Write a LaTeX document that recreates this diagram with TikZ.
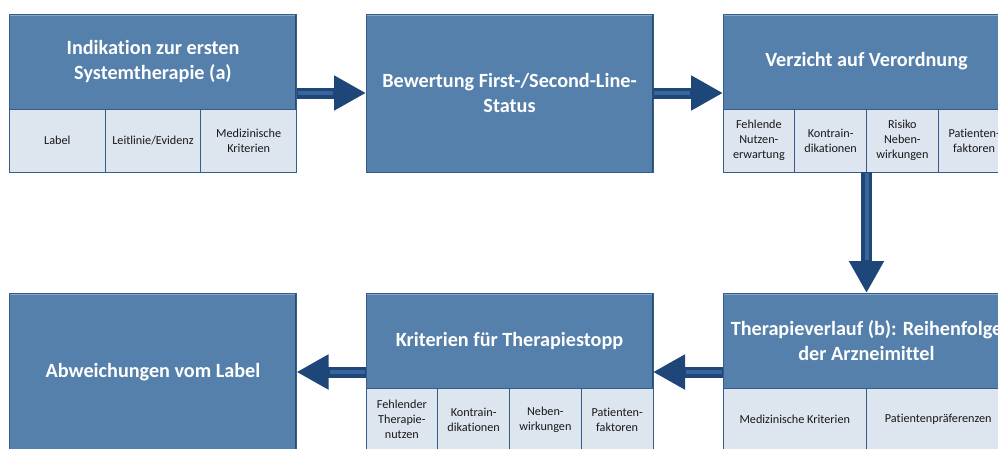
\documentclass[tikz,border=0pt]{standalone}
\usepackage{fontspec}
\setmainfont{Carlito}[Ligatures={NoCommon}]
\usetikzlibrary{arrows.meta}

\definecolor{hdrfill}{RGB}{84,128,171}
\definecolor{hdrlight}{RGB}{132,168,204}
\definecolor{hdrdark}{RGB}{42,76,116}
\definecolor{cellfill}{RGB}{221,229,238}
\definecolor{celledge}{RGB}{52,92,140}
\definecolor{arrowdark}{RGB}{30,70,120}
\definecolor{arrowlight}{RGB}{56,102,156}

\tikzset{
  frame/.style={minimum width=287pt, minimum height=158pt, inner sep=0pt, outer sep=0pt},
  header/.style={fill=hdrfill, draw=celledge, line width=0.8pt,
    minimum width=287pt, minimum height=95pt, inner sep=0pt, outer sep=0pt,
    anchor=north west, text=white, align=center,
    font=\fontsize{20.2}{25.5}\selectfont\bfseries,
    path picture={
      \draw[hdrlight, line width=3pt] (path picture bounding box.north west) -- (path picture bounding box.north east);
      \draw[hdrdark, line width=3pt] (path picture bounding box.north east) -- (path picture bounding box.south east);
    }},
  cellbox/.style={fill=cellfill, draw=celledge, line width=0.8pt,
    minimum height=63pt, inner sep=0pt, outer sep=0pt, anchor=north west,
    align=center, text=black!90, font=\fontsize{12.2}{15}\selectfont},
  flow/.style={draw=arrowdark, line width=11pt, -{Triangle[length=32pt,width=33pt]}},
  flowshine/.style={draw=arrowlight, line width=4pt, shorten >=33pt, shorten <=1pt},
}

\begin{document}
\begin{tikzpicture}[x=1pt,y=-1pt]
\useasboundingbox (0,0) rectangle (998,448);
\clip (0,0) rectangle (998,448);

% outer frames of the six stages
\node[frame] (b1) at (153,93) {};
\node[frame] (b2) at (509.5,93) {};
\node[frame] (b3) at (866.5,93) {};
\node[frame] (b4) at (866.5,372) {};
\node[frame] (b5) at (509.5,372) {};
\node[frame] (b6) at (153,372) {};

% stage 1
\node[header] (h1) at (b1.north west) {Indikation zur ersten\\Systemtherapie (a)};
\node[cellbox, minimum width=95.67pt] (c1a) at (h1.south west) {Label};
\node[cellbox, minimum width=95.67pt] (c1b) at (c1a.north east) {Leitlinie/Evidenz};
\node[cellbox, minimum width=95.67pt] (c1c) at (c1b.north east) {Medizinische\\Kriterien};

% stage 2
\node[header, minimum height=158pt] (h2) at (b2.north west) {Bewertung First-/Second-Line-\\Status};

% stage 3
\node[header] (h3) at (b3.north west) {Verzicht auf Verordnung};
\node[cellbox, minimum width=71.75pt] (c3a) at (h3.south west) {Fehlende\\Nutzen-\\erwartung};
\node[cellbox, minimum width=71.75pt] (c3b) at (c3a.north east) {Kontrain-\\dikationen};
\node[cellbox, minimum width=71.75pt] (c3c) at (c3b.north east) {Risiko\\Neben-\\wirkungen};
\node[cellbox, minimum width=71.75pt] (c3d) at (c3c.north east) {Patienten-\\faktoren};

% stage 4
\node[header] (h4) at (b4.north west) {Therapieverlauf (b): Reihenfolge\\der Arzneimittel};
\node[cellbox, minimum width=143.5pt] (c4a) at (h4.south west) {Medizinische Kriterien};
\node[cellbox, minimum width=143.5pt] (c4b) at (c4a.north east) {Patientenpräferenzen};

% stage 5
\node[header] (h5) at (b5.north west) {Kriterien für Therapiestopp};
\node[cellbox, minimum width=71.75pt] (c5a) at (h5.south west) {Fehlender\\Therapie-\\nutzen};
\node[cellbox, minimum width=71.75pt] (c5b) at (c5a.north east) {Kontrain-\\dikationen};
\node[cellbox, minimum width=71.75pt] (c5c) at (c5b.north east) {Neben-\\wirkungen};
\node[cellbox, minimum width=71.75pt] (c5d) at (c5c.north east) {Patienten-\\faktoren};

% stage 6
\node[header, minimum height=158pt] (h6) at (b6.north west) {Abweichungen vom Label};

% block arrows between the stages
\foreach \s/\t in {b1.east/b2.west, b2.east/b3.west, b3.south/b4.north, b4.west/b5.east, b5.west/b6.east}{
  \draw[flow] (\s) -- (\t);
  \draw[flowshine] (\s) -- (\t);
}
\end{tikzpicture}
\end{document}
